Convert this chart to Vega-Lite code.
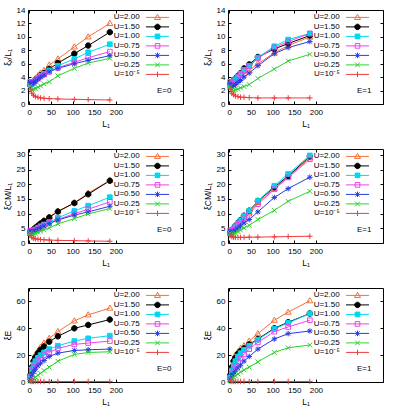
{
"$schema":"https://vega.github.io/schema/vega-lite/v6.json",
"background":"white",
"padding":{"left":2,"top":5,"right":5,"bottom":5},
"data":{"values":[
{"U":"U=2.00","L":2,"x0":3.0,"x1":2.7,"c0":3.3,"c1":3.4,"e0":5,"e1":5},
{"U":"U=2.00","L":6,"x0":3.2,"x1":2.9,"c0":4.0,"c1":4.1,"e0":12,"e1":12},
{"U":"U=2.00","L":10,"x0":3.4,"x1":3.1,"c0":4.6,"c1":4.8,"e0":17,"e1":17},
{"U":"U=2.00","L":14,"x0":3.8,"x1":3.4,"c0":5.3,"c1":5.5,"e0":20,"e1":20},
{"U":"U=2.00","L":20,"x0":4.2,"x1":3.7,"c0":6.0,"c1":6.5,"e0":23,"e1":22.5},
{"U":"U=2.00","L":26,"x0":4.6,"x1":4.0,"c0":6.7,"c1":7.5,"e0":26,"e1":25},
{"U":"U=2.00","L":34,"x0":5.0,"x1":4.5,"c0":7.6,"c1":8.8,"e0":29,"e1":27},
{"U":"U=2.00","L":46,"x0":5.8,"x1":5.0,"c0":8.8,"c1":10.5,"e0":32.5,"e1":30.5},
{"U":"U=2.00","L":66,"x0":6.7,"x1":6.0,"c0":10.8,"c1":13.8,"e0":37.5,"e1":36},
{"U":"U=2.00","L":104,"x0":8.5,"x1":7.6,"c0":13.7,"c1":18.5,"e0":45.5,"e1":46},
{"U":"U=2.00","L":136,"x0":10.0,"x1":8.7,"c0":17.0,"c1":22.5,"e0":50,"e1":52},
{"U":"U=2.00","L":186,"x0":12.0,"x1":10.0,"c0":21.3,"c1":29.0,"e0":55,"e1":60.5},
{"U":"U=1.50","L":2,"x0":2.8,"x1":3.0,"c0":3.6,"c1":3.6,"e0":5,"e1":5},
{"U":"U=1.50","L":6,"x0":3.0,"x1":3.3,"c0":4.1,"c1":4.3,"e0":11,"e1":11},
{"U":"U=1.50","L":10,"x0":3.2,"x1":3.5,"c0":4.6,"c1":5.0,"e0":15.5,"e1":15.5},
{"U":"U=1.50","L":14,"x0":3.6,"x1":3.8,"c0":5.2,"c1":5.8,"e0":18.5,"e1":18},
{"U":"U=1.50","L":20,"x0":3.9,"x1":4.2,"c0":5.9,"c1":6.8,"e0":21.5,"e1":21},
{"U":"U=1.50","L":26,"x0":4.3,"x1":4.6,"c0":6.6,"c1":7.8,"e0":24,"e1":23},
{"U":"U=1.50","L":34,"x0":4.6,"x1":5.3,"c0":7.5,"c1":9.3,"e0":26.5,"e1":25},
{"U":"U=1.50","L":46,"x0":5.2,"x1":5.9,"c0":8.7,"c1":11.0,"e0":30,"e1":28},
{"U":"U=1.50","L":66,"x0":6.1,"x1":7.0,"c0":10.7,"c1":14.3,"e0":34,"e1":32},
{"U":"U=1.50","L":104,"x0":7.5,"x1":8.2,"c0":13.6,"c1":19.0,"e0":40,"e1":40},
{"U":"U=1.50","L":136,"x0":8.7,"x1":9.0,"c0":16.6,"c1":22.8,"e0":42.5,"e1":44.5},
{"U":"U=1.50","L":186,"x0":10.7,"x1":10.2,"c0":21.2,"c1":29.5,"e0":46.5,"e1":51},
{"U":"U=1.00","L":2,"x0":2.9,"x1":2.9,"c0":3.6,"c1":3.5,"e0":4,"e1":3.5},
{"U":"U=1.00","L":6,"x0":3.0,"x1":3.1,"c0":3.8,"c1":4.2,"e0":9.5,"e1":8.5},
{"U":"U=1.00","L":10,"x0":3.2,"x1":3.4,"c0":4.2,"c1":4.9,"e0":13,"e1":12.5},
{"U":"U=1.00","L":14,"x0":3.5,"x1":3.7,"c0":4.6,"c1":5.7,"e0":15.5,"e1":15.5},
{"U":"U=1.00","L":20,"x0":3.9,"x1":4.1,"c0":5.1,"c1":6.7,"e0":18,"e1":19},
{"U":"U=1.00","L":26,"x0":4.2,"x1":4.5,"c0":5.7,"c1":7.7,"e0":20,"e1":21.5},
{"U":"U=1.00","L":34,"x0":4.5,"x1":5.1,"c0":6.3,"c1":9.2,"e0":22,"e1":24},
{"U":"U=1.00","L":46,"x0":5.0,"x1":5.7,"c0":7.1,"c1":11.0,"e0":24.5,"e1":27},
{"U":"U=1.00","L":66,"x0":5.7,"x1":6.9,"c0":8.6,"c1":14.3,"e0":27,"e1":31.5},
{"U":"U=1.00","L":104,"x0":6.7,"x1":8.6,"c0":10.9,"c1":19.5,"e0":30.5,"e1":39.5},
{"U":"U=1.00","L":136,"x0":7.7,"x1":9.6,"c0":12.7,"c1":23.5,"e0":32.5,"e1":44},
{"U":"U=1.00","L":186,"x0":8.9,"x1":10.5,"c0":15.6,"c1":29.8,"e0":34.5,"e1":51},
{"U":"U=0.75","L":2,"x0":3.3,"x1":3.3,"c0":4.2,"c1":4.3,"e0":3.5,"e1":3},
{"U":"U=0.75","L":6,"x0":3.2,"x1":3.1,"c0":4.0,"c1":4.3,"e0":8,"e1":6.5},
{"U":"U=0.75","L":10,"x0":3.3,"x1":3.3,"c0":4.2,"c1":4.7,"e0":11,"e1":9.5},
{"U":"U=0.75","L":14,"x0":3.5,"x1":3.6,"c0":4.5,"c1":5.3,"e0":13.5,"e1":12},
{"U":"U=0.75","L":20,"x0":3.8,"x1":4.0,"c0":4.9,"c1":6.2,"e0":16,"e1":15},
{"U":"U=0.75","L":26,"x0":4.1,"x1":4.4,"c0":5.4,"c1":7.1,"e0":18,"e1":17.5},
{"U":"U=0.75","L":34,"x0":4.4,"x1":5.0,"c0":6.0,"c1":8.4,"e0":20,"e1":20.5},
{"U":"U=0.75","L":46,"x0":4.8,"x1":5.6,"c0":6.8,"c1":10.0,"e0":22,"e1":24.5},
{"U":"U=0.75","L":66,"x0":5.4,"x1":6.8,"c0":8.0,"c1":13.2,"e0":25,"e1":29.5},
{"U":"U=0.75","L":104,"x0":6.2,"x1":8.4,"c0":10.0,"c1":18.3,"e0":28,"e1":37.5},
{"U":"U=0.75","L":136,"x0":6.9,"x1":9.3,"c0":11.5,"c1":22.3,"e0":29,"e1":41},
{"U":"U=0.75","L":186,"x0":7.8,"x1":10.5,"c0":14.0,"c1":28.5,"e0":30.5,"e1":46},
{"U":"U=0.50","L":2,"x0":3.2,"x1":3.0,"c0":4.0,"c1":3.8,"e0":2,"e1":2},
{"U":"U=0.50","L":6,"x0":3.0,"x1":2.6,"c0":3.8,"c1":3.6,"e0":5,"e1":4},
{"U":"U=0.50","L":10,"x0":3.2,"x1":2.7,"c0":4.0,"c1":3.9,"e0":7.5,"e1":6},
{"U":"U=0.50","L":14,"x0":3.4,"x1":2.9,"c0":4.3,"c1":4.4,"e0":9.5,"e1":8},
{"U":"U=0.50","L":20,"x0":3.7,"x1":3.2,"c0":4.7,"c1":5.0,"e0":12,"e1":10.5},
{"U":"U=0.50","L":26,"x0":4.0,"x1":3.5,"c0":5.2,"c1":5.8,"e0":14,"e1":12.5},
{"U":"U=0.50","L":34,"x0":4.3,"x1":4.0,"c0":5.8,"c1":6.8,"e0":16,"e1":15.5},
{"U":"U=0.50","L":46,"x0":4.8,"x1":4.6,"c0":6.6,"c1":8.0,"e0":19,"e1":19},
{"U":"U=0.50","L":66,"x0":5.3,"x1":5.7,"c0":7.8,"c1":10.6,"e0":21.5,"e1":24.5},
{"U":"U=0.50","L":104,"x0":6.0,"x1":7.5,"c0":9.5,"c1":15.5,"e0":23.5,"e1":32},
{"U":"U=0.50","L":136,"x0":6.5,"x1":8.4,"c0":10.6,"c1":18.5,"e0":24,"e1":36},
{"U":"U=0.50","L":186,"x0":7.2,"x1":9.3,"c0":12.5,"c1":22.4,"e0":24.5,"e1":38},
{"U":"U=0.25","L":2,"x0":2.7,"x1":2.6,"c0":3.4,"c1":3.3,"e0":0.5,"e1":1},
{"U":"U=0.25","L":6,"x0":2.1,"x1":2.0,"c0":2.9,"c1":2.9,"e0":1.5,"e1":2.5},
{"U":"U=0.25","L":10,"x0":2.2,"x1":2.0,"c0":3.0,"c1":3.1,"e0":2.5,"e1":3.5},
{"U":"U=0.25","L":14,"x0":2.3,"x1":2.1,"c0":3.2,"c1":3.4,"e0":3.5,"e1":4.5},
{"U":"U=0.25","L":20,"x0":2.5,"x1":2.2,"c0":3.6,"c1":3.9,"e0":5,"e1":6},
{"U":"U=0.25","L":26,"x0":2.7,"x1":2.4,"c0":4.0,"c1":4.4,"e0":6.5,"e1":7.5},
{"U":"U=0.25","L":34,"x0":3.0,"x1":2.6,"c0":4.5,"c1":5.1,"e0":8.5,"e1":9},
{"U":"U=0.25","L":46,"x0":3.3,"x1":2.9,"c0":5.1,"c1":6.0,"e0":11,"e1":11},
{"U":"U=0.25","L":66,"x0":4.2,"x1":3.8,"c0":6.5,"c1":8.0,"e0":15.5,"e1":15},
{"U":"U=0.25","L":104,"x0":5.3,"x1":5.2,"c0":8.3,"c1":11.1,"e0":20.5,"e1":22},
{"U":"U=0.25","L":136,"x0":6.1,"x1":6.4,"c0":9.9,"c1":14.2,"e0":22,"e1":25.5},
{"U":"U=0.25","L":186,"x0":6.8,"x1":7.4,"c0":11.7,"c1":17.6,"e0":22.5,"e1":27.5},
{"U":"U=10⁻⁵","L":2,"x0":2.2,"x1":2.2,"c0":2.6,"c1":2.5,"e0":0.5,"e1":0.5},
{"U":"U=10⁻⁵","L":6,"x0":1.6,"x1":1.6,"c0":1.9,"c1":2.1,"e0":0.4,"e1":0.4},
{"U":"U=10⁻⁵","L":10,"x0":1.3,"x1":1.4,"c0":1.6,"c1":2.0,"e0":0.4,"e1":0.4},
{"U":"U=10⁻⁵","L":14,"x0":1.1,"x1":1.2,"c0":1.4,"c1":1.9,"e0":0.4,"e1":0.4},
{"U":"U=10⁻⁵","L":20,"x0":1.0,"x1":1.1,"c0":1.3,"c1":1.9,"e0":0.4,"e1":0.4},
{"U":"U=10⁻⁵","L":26,"x0":0.9,"x1":1.0,"c0":1.2,"c1":1.9,"e0":0.4,"e1":0.4},
{"U":"U=10⁻⁵","L":34,"x0":0.85,"x1":1.0,"c0":1.1,"c1":1.9,"e0":0.4,"e1":0.4},
{"U":"U=10⁻⁵","L":46,"x0":0.8,"x1":0.95,"c0":1.0,"c1":2.0,"e0":0.4,"e1":0.4},
{"U":"U=10⁻⁵","L":66,"x0":0.75,"x1":0.9,"c0":0.9,"c1":2.0,"e0":0.4,"e1":0.4},
{"U":"U=10⁻⁵","L":104,"x0":0.7,"x1":0.9,"c0":0.8,"c1":2.1,"e0":0.4,"e1":0.4},
{"U":"U=10⁻⁵","L":136,"x0":0.65,"x1":0.9,"c0":0.7,"c1":2.2,"e0":0.4,"e1":0.4},
{"U":"U=10⁻⁵","L":186,"x0":0.6,"x1":0.9,"c0":0.6,"c1":2.3,"e0":0.4,"e1":0.4}
]},
"columns":2,
"spacing":{"row":45,"column":45},
"bounds":"flush",
"concat":[
{"width":155,"height":94,
 "layer":[
  {"mark":{"type":"line","strokeWidth":1},
   "encoding":{
    "x":{"field":"L","type":"quantitative","scale":{"domain":[-3,355],"nice":false,"zero":false},"axis":{"title":"L₁","values":[0,50,100,150,200]}},
    "y":{"field":"x0","type":"quantitative","scale":{"domain":[0,14],"nice":false},"axis":{"title":"ξₓ/L₁","values":[0,2,4,6,8,10,12,14]}},
    "color":{"field":"U","type":"nominal","scale":{"domain":["U=2.00","U=1.50","U=1.00","U=0.75","U=0.50","U=0.25","U=10⁻⁵"],"range":["#f4703a","#000000","#00d8f0","#f040f0","#2a3ae6","#2ed02e","#f03c3c"]},"legend":null}}},
  {"mark":{"type":"point","filled":false,"size":30,"strokeWidth":1,"opacity":1},
   "encoding":{
    "x":{"field":"L","type":"quantitative","axis":{"orient":"top","labels":false,"title":null,"values":[0,50,100,150,200]}},
    "y":{"field":"x0","type":"quantitative","axis":{"orient":"right","labels":false,"title":null,"values":[0,2,4,6,8,10,12,14]}},
    "color":{"field":"U","type":"nominal","legend":null},
    "shape":{"field":"U","type":"nominal","scale":{"domain":["U=2.00","U=1.50","U=1.00","U=0.75","U=0.50","U=0.25","U=10⁻⁵"],"range":["M0,-1.15L1.1,0.75L-1.1,0.75Z","M1,0A1,1,0,1,1,-1,0A1,1,0,1,1,1,0Z","M-0.85,-0.85H0.85V0.85H-0.85Z","M-0.85,-0.85H0.85V0.85H-0.85Z","M-1,0H1M0,-1V1M-0.75,-0.75L0.75,0.75M-0.75,0.75L0.75,-0.75","M-0.85,-0.85L0.85,0.85M-0.85,0.85L0.85,-0.85","M-1,0H1M0,-1V1"]},"legend":null},
    "fill":{"field":"U","type":"nominal","scale":{"domain":["U=2.00","U=1.50","U=1.00","U=0.75","U=0.50","U=0.25","U=10⁻⁵"],"range":["transparent","#000000","#00d8f0","transparent","transparent","transparent","transparent"]},"legend":null}}},
  {"transform":[{"filter":"datum.L < 0"}],
   "mark":{"type":"point","filled":false,"size":30,"strokeWidth":1,"opacity":1},
   "encoding":{
    "x":{"field":"L","type":"quantitative","axis":null},
    "y":{"field":"x0","type":"quantitative","axis":null},
    "color":{"field":"U","type":"nominal","legend":{"title":"E=0","orient":"none","legendX":125.5,"legendY":3.4}},
    "shape":{"field":"U","type":"nominal","scale":{"domain":["U=2.00","U=1.50","U=1.00","U=0.75","U=0.50","U=0.25","U=10⁻⁵"],"range":["M-4.2,0H4.2M0,-1.15L1.1,0.75L-1.1,0.75Z","M-4.2,0H4.2M1,0A1,1,0,1,1,-1,0A1,1,0,1,1,1,0Z","M-4.2,0H4.2M-0.85,-0.85H0.85V0.85H-0.85Z","M-4.2,0H4.2M-0.85,-0.85H0.85V0.85H-0.85Z","M-4.2,0H4.2M0,-1V1M-0.75,-0.75L0.75,0.75M-0.75,0.75L0.75,-0.75","M-4.2,0H4.2M-0.85,-0.85L0.85,0.85M-0.85,0.85L0.85,-0.85","M-4.2,0H4.2M0,-1V1"]},"legend":{"title":"E=0","orient":"none","legendX":125.5,"legendY":3.4}},
    "fill":{"field":"U","type":"nominal","legend":{"title":"E=0","orient":"none","legendX":125.5,"legendY":3.4}}}}
 ],
 "resolve":{"scale":{"shape":"independent"},"axis":{"x":"independent","y":"independent"},"legend":{"color":"independent","shape":"independent","fill":"independent"}}
},
{"width":155,"height":94,
 "layer":[
  {"mark":{"type":"line","strokeWidth":1},
   "encoding":{
    "x":{"field":"L","type":"quantitative","scale":{"domain":[-3,355],"nice":false,"zero":false},"axis":{"title":"L₁","values":[0,50,100,150,200]}},
    "y":{"field":"x1","type":"quantitative","scale":{"domain":[0,14],"nice":false},"axis":{"title":"ξₓ/L₁","values":[0,2,4,6,8,10,12,14]}},
    "color":{"field":"U","type":"nominal","scale":{"domain":["U=2.00","U=1.50","U=1.00","U=0.75","U=0.50","U=0.25","U=10⁻⁵"],"range":["#f4703a","#000000","#00d8f0","#f040f0","#2a3ae6","#2ed02e","#f03c3c"]},"legend":null}}},
  {"mark":{"type":"point","filled":false,"size":30,"strokeWidth":1,"opacity":1},
   "encoding":{
    "x":{"field":"L","type":"quantitative","axis":{"orient":"top","labels":false,"title":null,"values":[0,50,100,150,200]}},
    "y":{"field":"x1","type":"quantitative","axis":{"orient":"right","labels":false,"title":null,"values":[0,2,4,6,8,10,12,14]}},
    "color":{"field":"U","type":"nominal","legend":null},
    "shape":{"field":"U","type":"nominal","scale":{"domain":["U=2.00","U=1.50","U=1.00","U=0.75","U=0.50","U=0.25","U=10⁻⁵"],"range":["M0,-1.15L1.1,0.75L-1.1,0.75Z","M1,0A1,1,0,1,1,-1,0A1,1,0,1,1,1,0Z","M-0.85,-0.85H0.85V0.85H-0.85Z","M-0.85,-0.85H0.85V0.85H-0.85Z","M-1,0H1M0,-1V1M-0.75,-0.75L0.75,0.75M-0.75,0.75L0.75,-0.75","M-0.85,-0.85L0.85,0.85M-0.85,0.85L0.85,-0.85","M-1,0H1M0,-1V1"]},"legend":null},
    "fill":{"field":"U","type":"nominal","scale":{"domain":["U=2.00","U=1.50","U=1.00","U=0.75","U=0.50","U=0.25","U=10⁻⁵"],"range":["transparent","#000000","#00d8f0","transparent","transparent","transparent","transparent"]},"legend":null}}},
  {"transform":[{"filter":"datum.L < 0"}],
   "mark":{"type":"point","filled":false,"size":30,"strokeWidth":1,"opacity":1},
   "encoding":{
    "x":{"field":"L","type":"quantitative","axis":null},
    "y":{"field":"x1","type":"quantitative","axis":null},
    "color":{"field":"U","type":"nominal","legend":{"title":"E=1","orient":"none","legendX":125.5,"legendY":3.4}},
    "shape":{"field":"U","type":"nominal","scale":{"domain":["U=2.00","U=1.50","U=1.00","U=0.75","U=0.50","U=0.25","U=10⁻⁵"],"range":["M-4.2,0H4.2M0,-1.15L1.1,0.75L-1.1,0.75Z","M-4.2,0H4.2M1,0A1,1,0,1,1,-1,0A1,1,0,1,1,1,0Z","M-4.2,0H4.2M-0.85,-0.85H0.85V0.85H-0.85Z","M-4.2,0H4.2M-0.85,-0.85H0.85V0.85H-0.85Z","M-4.2,0H4.2M0,-1V1M-0.75,-0.75L0.75,0.75M-0.75,0.75L0.75,-0.75","M-4.2,0H4.2M-0.85,-0.85L0.85,0.85M-0.85,0.85L0.85,-0.85","M-4.2,0H4.2M0,-1V1"]},"legend":{"title":"E=1","orient":"none","legendX":125.5,"legendY":3.4}},
    "fill":{"field":"U","type":"nominal","legend":{"title":"E=1","orient":"none","legendX":125.5,"legendY":3.4}}}}
 ],
 "resolve":{"scale":{"shape":"independent"},"axis":{"x":"independent","y":"independent"},"legend":{"color":"independent","shape":"independent","fill":"independent"}}
},
{"width":155,"height":94,
 "layer":[
  {"mark":{"type":"line","strokeWidth":1},
   "encoding":{
    "x":{"field":"L","type":"quantitative","scale":{"domain":[-3,355],"nice":false,"zero":false},"axis":{"title":"L₁","values":[0,50,100,150,200]}},
    "y":{"field":"c0","type":"quantitative","scale":{"domain":[0,32],"nice":false},"axis":{"title":"ξCM/L₁","values":[0,5,10,15,20,25,30]}},
    "color":{"field":"U","type":"nominal","scale":{"domain":["U=2.00","U=1.50","U=1.00","U=0.75","U=0.50","U=0.25","U=10⁻⁵"],"range":["#f4703a","#000000","#00d8f0","#f040f0","#2a3ae6","#2ed02e","#f03c3c"]},"legend":null}}},
  {"mark":{"type":"point","filled":false,"size":30,"strokeWidth":1,"opacity":1},
   "encoding":{
    "x":{"field":"L","type":"quantitative","axis":{"orient":"top","labels":false,"title":null,"values":[0,50,100,150,200]}},
    "y":{"field":"c0","type":"quantitative","axis":{"orient":"right","labels":false,"title":null,"values":[0,5,10,15,20,25,30]}},
    "color":{"field":"U","type":"nominal","legend":null},
    "shape":{"field":"U","type":"nominal","scale":{"domain":["U=2.00","U=1.50","U=1.00","U=0.75","U=0.50","U=0.25","U=10⁻⁵"],"range":["M0,-1.15L1.1,0.75L-1.1,0.75Z","M1,0A1,1,0,1,1,-1,0A1,1,0,1,1,1,0Z","M-0.85,-0.85H0.85V0.85H-0.85Z","M-0.85,-0.85H0.85V0.85H-0.85Z","M-1,0H1M0,-1V1M-0.75,-0.75L0.75,0.75M-0.75,0.75L0.75,-0.75","M-0.85,-0.85L0.85,0.85M-0.85,0.85L0.85,-0.85","M-1,0H1M0,-1V1"]},"legend":null},
    "fill":{"field":"U","type":"nominal","scale":{"domain":["U=2.00","U=1.50","U=1.00","U=0.75","U=0.50","U=0.25","U=10⁻⁵"],"range":["transparent","#000000","#00d8f0","transparent","transparent","transparent","transparent"]},"legend":null}}},
  {"transform":[{"filter":"datum.L < 0"}],
   "mark":{"type":"point","filled":false,"size":30,"strokeWidth":1,"opacity":1},
   "encoding":{
    "x":{"field":"L","type":"quantitative","axis":null},
    "y":{"field":"c0","type":"quantitative","axis":null},
    "color":{"field":"U","type":"nominal","legend":{"title":"E=0","orient":"none","legendX":125.5,"legendY":3.4}},
    "shape":{"field":"U","type":"nominal","scale":{"domain":["U=2.00","U=1.50","U=1.00","U=0.75","U=0.50","U=0.25","U=10⁻⁵"],"range":["M-4.2,0H4.2M0,-1.15L1.1,0.75L-1.1,0.75Z","M-4.2,0H4.2M1,0A1,1,0,1,1,-1,0A1,1,0,1,1,1,0Z","M-4.2,0H4.2M-0.85,-0.85H0.85V0.85H-0.85Z","M-4.2,0H4.2M-0.85,-0.85H0.85V0.85H-0.85Z","M-4.2,0H4.2M0,-1V1M-0.75,-0.75L0.75,0.75M-0.75,0.75L0.75,-0.75","M-4.2,0H4.2M-0.85,-0.85L0.85,0.85M-0.85,0.85L0.85,-0.85","M-4.2,0H4.2M0,-1V1"]},"legend":{"title":"E=0","orient":"none","legendX":125.5,"legendY":3.4}},
    "fill":{"field":"U","type":"nominal","legend":{"title":"E=0","orient":"none","legendX":125.5,"legendY":3.4}}}}
 ],
 "resolve":{"scale":{"shape":"independent"},"axis":{"x":"independent","y":"independent"},"legend":{"color":"independent","shape":"independent","fill":"independent"}}
},
{"width":155,"height":94,
 "layer":[
  {"mark":{"type":"line","strokeWidth":1},
   "encoding":{
    "x":{"field":"L","type":"quantitative","scale":{"domain":[-3,355],"nice":false,"zero":false},"axis":{"title":"L₁","values":[0,50,100,150,200]}},
    "y":{"field":"c1","type":"quantitative","scale":{"domain":[0,32],"nice":false},"axis":{"title":"ξCM/L₁","values":[0,5,10,15,20,25,30]}},
    "color":{"field":"U","type":"nominal","scale":{"domain":["U=2.00","U=1.50","U=1.00","U=0.75","U=0.50","U=0.25","U=10⁻⁵"],"range":["#f4703a","#000000","#00d8f0","#f040f0","#2a3ae6","#2ed02e","#f03c3c"]},"legend":null}}},
  {"mark":{"type":"point","filled":false,"size":30,"strokeWidth":1,"opacity":1},
   "encoding":{
    "x":{"field":"L","type":"quantitative","axis":{"orient":"top","labels":false,"title":null,"values":[0,50,100,150,200]}},
    "y":{"field":"c1","type":"quantitative","axis":{"orient":"right","labels":false,"title":null,"values":[0,5,10,15,20,25,30]}},
    "color":{"field":"U","type":"nominal","legend":null},
    "shape":{"field":"U","type":"nominal","scale":{"domain":["U=2.00","U=1.50","U=1.00","U=0.75","U=0.50","U=0.25","U=10⁻⁵"],"range":["M0,-1.15L1.1,0.75L-1.1,0.75Z","M1,0A1,1,0,1,1,-1,0A1,1,0,1,1,1,0Z","M-0.85,-0.85H0.85V0.85H-0.85Z","M-0.85,-0.85H0.85V0.85H-0.85Z","M-1,0H1M0,-1V1M-0.75,-0.75L0.75,0.75M-0.75,0.75L0.75,-0.75","M-0.85,-0.85L0.85,0.85M-0.85,0.85L0.85,-0.85","M-1,0H1M0,-1V1"]},"legend":null},
    "fill":{"field":"U","type":"nominal","scale":{"domain":["U=2.00","U=1.50","U=1.00","U=0.75","U=0.50","U=0.25","U=10⁻⁵"],"range":["transparent","#000000","#00d8f0","transparent","transparent","transparent","transparent"]},"legend":null}}},
  {"transform":[{"filter":"datum.L < 0"}],
   "mark":{"type":"point","filled":false,"size":30,"strokeWidth":1,"opacity":1},
   "encoding":{
    "x":{"field":"L","type":"quantitative","axis":null},
    "y":{"field":"c1","type":"quantitative","axis":null},
    "color":{"field":"U","type":"nominal","legend":{"title":"E=1","orient":"none","legendX":125.5,"legendY":3.4}},
    "shape":{"field":"U","type":"nominal","scale":{"domain":["U=2.00","U=1.50","U=1.00","U=0.75","U=0.50","U=0.25","U=10⁻⁵"],"range":["M-4.2,0H4.2M0,-1.15L1.1,0.75L-1.1,0.75Z","M-4.2,0H4.2M1,0A1,1,0,1,1,-1,0A1,1,0,1,1,1,0Z","M-4.2,0H4.2M-0.85,-0.85H0.85V0.85H-0.85Z","M-4.2,0H4.2M-0.85,-0.85H0.85V0.85H-0.85Z","M-4.2,0H4.2M0,-1V1M-0.75,-0.75L0.75,0.75M-0.75,0.75L0.75,-0.75","M-4.2,0H4.2M-0.85,-0.85L0.85,0.85M-0.85,0.85L0.85,-0.85","M-4.2,0H4.2M0,-1V1"]},"legend":{"title":"E=1","orient":"none","legendX":125.5,"legendY":3.4}},
    "fill":{"field":"U","type":"nominal","legend":{"title":"E=1","orient":"none","legendX":125.5,"legendY":3.4}}}}
 ],
 "resolve":{"scale":{"shape":"independent"},"axis":{"x":"independent","y":"independent"},"legend":{"color":"independent","shape":"independent","fill":"independent"}}
},
{"width":155,"height":94,
 "layer":[
  {"mark":{"type":"line","strokeWidth":1},
   "encoding":{
    "x":{"field":"L","type":"quantitative","scale":{"domain":[-3,355],"nice":false,"zero":false},"axis":{"title":"L₁","values":[0,50,100,150,200]}},
    "y":{"field":"e0","type":"quantitative","scale":{"domain":[0,70],"nice":false},"axis":{"title":"ξE","values":[0,20,40,60]}},
    "color":{"field":"U","type":"nominal","scale":{"domain":["U=2.00","U=1.50","U=1.00","U=0.75","U=0.50","U=0.25","U=10⁻⁵"],"range":["#f4703a","#000000","#00d8f0","#f040f0","#2a3ae6","#2ed02e","#f03c3c"]},"legend":null}}},
  {"mark":{"type":"point","filled":false,"size":30,"strokeWidth":1,"opacity":1},
   "encoding":{
    "x":{"field":"L","type":"quantitative","axis":{"orient":"top","labels":false,"title":null,"values":[0,50,100,150,200]}},
    "y":{"field":"e0","type":"quantitative","axis":{"orient":"right","labels":false,"title":null,"values":[0,20,40,60]}},
    "color":{"field":"U","type":"nominal","legend":null},
    "shape":{"field":"U","type":"nominal","scale":{"domain":["U=2.00","U=1.50","U=1.00","U=0.75","U=0.50","U=0.25","U=10⁻⁵"],"range":["M0,-1.15L1.1,0.75L-1.1,0.75Z","M1,0A1,1,0,1,1,-1,0A1,1,0,1,1,1,0Z","M-0.85,-0.85H0.85V0.85H-0.85Z","M-0.85,-0.85H0.85V0.85H-0.85Z","M-1,0H1M0,-1V1M-0.75,-0.75L0.75,0.75M-0.75,0.75L0.75,-0.75","M-0.85,-0.85L0.85,0.85M-0.85,0.85L0.85,-0.85","M-1,0H1M0,-1V1"]},"legend":null},
    "fill":{"field":"U","type":"nominal","scale":{"domain":["U=2.00","U=1.50","U=1.00","U=0.75","U=0.50","U=0.25","U=10⁻⁵"],"range":["transparent","#000000","#00d8f0","transparent","transparent","transparent","transparent"]},"legend":null}}},
  {"transform":[{"filter":"datum.L < 0"}],
   "mark":{"type":"point","filled":false,"size":30,"strokeWidth":1,"opacity":1},
   "encoding":{
    "x":{"field":"L","type":"quantitative","axis":null},
    "y":{"field":"e0","type":"quantitative","axis":null},
    "color":{"field":"U","type":"nominal","legend":{"title":"E=0","orient":"none","legendX":125.5,"legendY":3.4}},
    "shape":{"field":"U","type":"nominal","scale":{"domain":["U=2.00","U=1.50","U=1.00","U=0.75","U=0.50","U=0.25","U=10⁻⁵"],"range":["M-4.2,0H4.2M0,-1.15L1.1,0.75L-1.1,0.75Z","M-4.2,0H4.2M1,0A1,1,0,1,1,-1,0A1,1,0,1,1,1,0Z","M-4.2,0H4.2M-0.85,-0.85H0.85V0.85H-0.85Z","M-4.2,0H4.2M-0.85,-0.85H0.85V0.85H-0.85Z","M-4.2,0H4.2M0,-1V1M-0.75,-0.75L0.75,0.75M-0.75,0.75L0.75,-0.75","M-4.2,0H4.2M-0.85,-0.85L0.85,0.85M-0.85,0.85L0.85,-0.85","M-4.2,0H4.2M0,-1V1"]},"legend":{"title":"E=0","orient":"none","legendX":125.5,"legendY":3.4}},
    "fill":{"field":"U","type":"nominal","legend":{"title":"E=0","orient":"none","legendX":125.5,"legendY":3.4}}}}
 ],
 "resolve":{"scale":{"shape":"independent"},"axis":{"x":"independent","y":"independent"},"legend":{"color":"independent","shape":"independent","fill":"independent"}}
},
{"width":155,"height":94,
 "layer":[
  {"mark":{"type":"line","strokeWidth":1},
   "encoding":{
    "x":{"field":"L","type":"quantitative","scale":{"domain":[-3,355],"nice":false,"zero":false},"axis":{"title":"L₁","values":[0,50,100,150,200]}},
    "y":{"field":"e1","type":"quantitative","scale":{"domain":[0,70],"nice":false},"axis":{"title":"ξE","values":[0,20,40,60]}},
    "color":{"field":"U","type":"nominal","scale":{"domain":["U=2.00","U=1.50","U=1.00","U=0.75","U=0.50","U=0.25","U=10⁻⁵"],"range":["#f4703a","#000000","#00d8f0","#f040f0","#2a3ae6","#2ed02e","#f03c3c"]},"legend":null}}},
  {"mark":{"type":"point","filled":false,"size":30,"strokeWidth":1,"opacity":1},
   "encoding":{
    "x":{"field":"L","type":"quantitative","axis":{"orient":"top","labels":false,"title":null,"values":[0,50,100,150,200]}},
    "y":{"field":"e1","type":"quantitative","axis":{"orient":"right","labels":false,"title":null,"values":[0,20,40,60]}},
    "color":{"field":"U","type":"nominal","legend":null},
    "shape":{"field":"U","type":"nominal","scale":{"domain":["U=2.00","U=1.50","U=1.00","U=0.75","U=0.50","U=0.25","U=10⁻⁵"],"range":["M0,-1.15L1.1,0.75L-1.1,0.75Z","M1,0A1,1,0,1,1,-1,0A1,1,0,1,1,1,0Z","M-0.85,-0.85H0.85V0.85H-0.85Z","M-0.85,-0.85H0.85V0.85H-0.85Z","M-1,0H1M0,-1V1M-0.75,-0.75L0.75,0.75M-0.75,0.75L0.75,-0.75","M-0.85,-0.85L0.85,0.85M-0.85,0.85L0.85,-0.85","M-1,0H1M0,-1V1"]},"legend":null},
    "fill":{"field":"U","type":"nominal","scale":{"domain":["U=2.00","U=1.50","U=1.00","U=0.75","U=0.50","U=0.25","U=10⁻⁵"],"range":["transparent","#000000","#00d8f0","transparent","transparent","transparent","transparent"]},"legend":null}}},
  {"transform":[{"filter":"datum.L < 0"}],
   "mark":{"type":"point","filled":false,"size":30,"strokeWidth":1,"opacity":1},
   "encoding":{
    "x":{"field":"L","type":"quantitative","axis":null},
    "y":{"field":"e1","type":"quantitative","axis":null},
    "color":{"field":"U","type":"nominal","legend":{"title":"E=1","orient":"none","legendX":125.5,"legendY":3.4}},
    "shape":{"field":"U","type":"nominal","scale":{"domain":["U=2.00","U=1.50","U=1.00","U=0.75","U=0.50","U=0.25","U=10⁻⁵"],"range":["M-4.2,0H4.2M0,-1.15L1.1,0.75L-1.1,0.75Z","M-4.2,0H4.2M1,0A1,1,0,1,1,-1,0A1,1,0,1,1,1,0Z","M-4.2,0H4.2M-0.85,-0.85H0.85V0.85H-0.85Z","M-4.2,0H4.2M-0.85,-0.85H0.85V0.85H-0.85Z","M-4.2,0H4.2M0,-1V1M-0.75,-0.75L0.75,0.75M-0.75,0.75L0.75,-0.75","M-4.2,0H4.2M-0.85,-0.85L0.85,0.85M-0.85,0.85L0.85,-0.85","M-4.2,0H4.2M0,-1V1"]},"legend":{"title":"E=1","orient":"none","legendX":125.5,"legendY":3.4}},
    "fill":{"field":"U","type":"nominal","legend":{"title":"E=1","orient":"none","legendX":125.5,"legendY":3.4}}}}
 ],
 "resolve":{"scale":{"shape":"independent"},"axis":{"x":"independent","y":"independent"},"legend":{"color":"independent","shape":"independent","fill":"independent"}}
}
],
"resolve":{"scale":{"y":"independent","shape":"independent"},"legend":{"color":"independent","shape":"independent","fill":"independent"}},
"config":{
 "font":"Liberation Sans",
 "view":{"stroke":"#000000","strokeWidth":1},
 "axis":{"domain":false,"grid":false,"labelFlush":false,"tickSize":-3,"tickColor":"#000000","tickWidth":1,"labelColor":"#000000","titleColor":"#000000","labelFont":"Liberation Sans","titleFont":"Liberation Sans","labelFontSize":8,"titleFontSize":8.5,"titleFontWeight":"normal"},
 "axisX":{"labelPadding":7.5,"titlePadding":3},
 "axisY":{"labelPadding":6,"titlePadding":4},
 "legend":{"labelAlign":"right","labelOffset":-21.8,"labelFont":"Liberation Sans","labelFontSize":8,"labelColor":"#000000","symbolSize":30,"symbolStrokeWidth":1,"rowPadding":-0.5,"padding":0,"titleOrient":"bottom","titleAnchor":"end","titleFont":"Liberation Sans","titleFontSize":8,"titleFontWeight":"normal","titleColor":"#000000","titlePadding":7.7,"symbolOpacity":1}
}
}
